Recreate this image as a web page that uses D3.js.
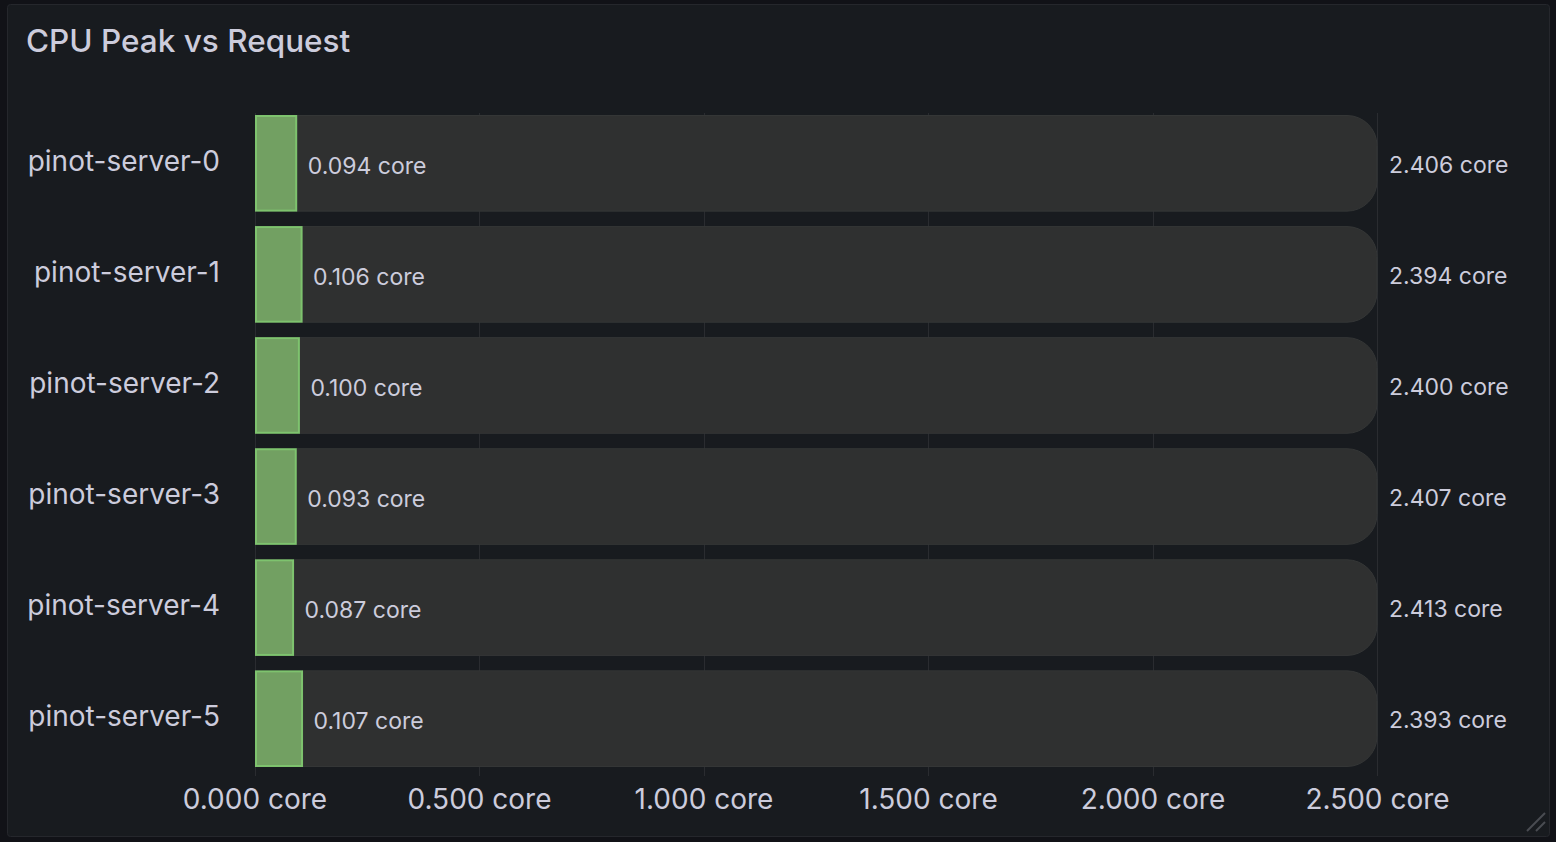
<!DOCTYPE html>
<html>
<head>
<meta charset="utf-8">
<script src="https://cdn.jsdelivr.net/npm/d3@7"></script>
<style>
  html, body { margin: 0; padding: 0; background: #111217; }
  svg { display: block; font-family: Inter, "Noto Sans", sans-serif; }
</style>
</head>
<body>
<div id="chart"></div>
<script>
// Chart data
const pods = ['pinot-server-0', 'pinot-server-1', 'pinot-server-2', 'pinot-server-3', 'pinot-server-4', 'pinot-server-5'];
const peak = [0.094, 0.106, 0.100, 0.093, 0.087, 0.107];
const headroom = [2.406, 2.394, 2.400, 2.407, 2.413, 2.393];
const ticks = [0, 0.5, 1.0, 1.5, 2.0, 2.5];

const width = 1556;
const height = 842;
const textColor = '#ccccdc';
const fmt = v => `${d3.format('.3f')(v)} core`;

const svg = d3.select('#chart')
  .append('svg')
  .attr('width', width)
  .attr('height', height);

// Panel frame
svg.append('rect')
  .attr('x', 7.5).attr('y', 4.5)
  .attr('width', 1542).attr('height', 832)
  .attr('rx', 3)
  .attr('fill', '#181b1f')
  .attr('stroke', '#25272c');

svg.append('text')
  .attr('x', 26).attr('y', 52)
  .attr('fill', textColor)
  .attr('font-size', '31.5px')
  .attr('font-weight', 500)
  .text('CPU Peak vs Request');

// Scales
const x = d3.scaleLinear().domain([0, 2.5]).range([254.5, 1377]);
const y = d3.scaleBand().domain(pods).range([115, 767]).paddingInner(0.13);

// Grid lines
const grid = svg.append('g');
grid.selectAll('line')
  .data(ticks)
  .join('line')
  .attr('x1', d => Math.round(x(d)) + 0.5).attr('x2', d => Math.round(x(d)) + 0.5)
  .attr('y1', 113).attr('y2', 776)
  .attr('stroke', '#2a2c30')
  .attr('stroke-width', 1);

const rows = pods.map((p, i) => ({ pod: p, peak: peak[i], rest: headroom[i] }));

// Gray remaining segment with rounded right end
function roundedRight(x0, y0, x1, h, r) {
  r = Math.min(r, h / 2, x1 - x0);
  return `M${x0},${y0}H${x1 - r}A${r},${r} 0 0 1 ${x1},${y0 + r}` +
    `V${y0 + h - r}A${r},${r} 0 0 1 ${x1 - r},${y0 + h}H${x0}Z`;
}

const bars = svg.append('g');
bars.selectAll('.rest')
  .data(rows)
  .join('path')
  .attr('class', 'rest')
  .attr('d', d => roundedRight(x(d.peak), y(d.pod) + 0.5, x(d.peak + d.rest), y.bandwidth() - 1, 30))
  .attr('fill', '#2f3030')
  .attr('stroke', '#343636')
  .attr('stroke-width', 1);

bars.selectAll('.peak')
  .data(rows)
  .join('rect')
  .attr('class', 'peak')
  .attr('x', x(0) + 1.5)
  .attr('y', d => y(d.pod) + 1)
  .attr('width', d => x(d.peak) - x(0) - 2)
  .attr('height', y.bandwidth() - 2)
  .attr('fill', '#72a062')
  .attr('stroke', '#7ec36e')
  .attr('stroke-width', 2);

// Value labels
bars.selectAll('.peak-label')
  .data(rows)
  .join('text')
  .attr('class', 'peak-label')
  .attr('x', d => x(d.peak) + 11)
  .attr('y', d => y(d.pod) + y.bandwidth() / 2 + 4)
  .attr('dominant-baseline', 'middle')
  .attr('fill', textColor)
  .attr('font-size', '23px')
  .text(d => fmt(d.peak));

bars.selectAll('.rest-label')
  .data(rows)
  .join('text')
  .attr('class', 'rest-label')
  .attr('x', d => x(d.peak + d.rest) + 12)
  .attr('y', d => y(d.pod) + y.bandwidth() / 2 + 3)
  .attr('dominant-baseline', 'middle')
  .attr('fill', textColor)
  .attr('font-size', '23px')
  .text(d => fmt(d.rest));

// Category axis
const yAxis = svg.append('g')
  .attr('transform', 'translate(220,2)')
  .call(d3.axisLeft(y).tickSize(0).tickPadding(0));
yAxis.select('.domain').remove();
yAxis.selectAll('text')
  .attr('fill', textColor)
  .attr('font-size', '28px')
  .attr('font-family', 'Inter, "Noto Sans", sans-serif')
  .attr('dy', '0.2em');

// Value axis
const xAxis = svg.append('g')
  .attr('transform', 'translate(0,776)')
  .call(d3.axisBottom(x).tickValues(ticks).tickFormat(fmt).tickSize(0).tickPadding(0));
xAxis.select('.domain').remove();
xAxis.selectAll('text')
  .attr('fill', textColor)
  .attr('font-size', '28px')
  .attr('font-family', 'Inter, "Noto Sans", sans-serif')
  .attr('dy', '0')
  .attr('y', 33);

// Resize handle
const handle = svg.append('g').attr('stroke', '#4a4c52').attr('stroke-width', 2);
handle.append('line').attr('x1', 1527).attr('y1', 831).attr('x2', 1545).attr('y2', 813);
handle.append('line').attr('x1', 1536).attr('y1', 831).attr('x2', 1545).attr('y2', 822);
</script>
</body>
</html>
